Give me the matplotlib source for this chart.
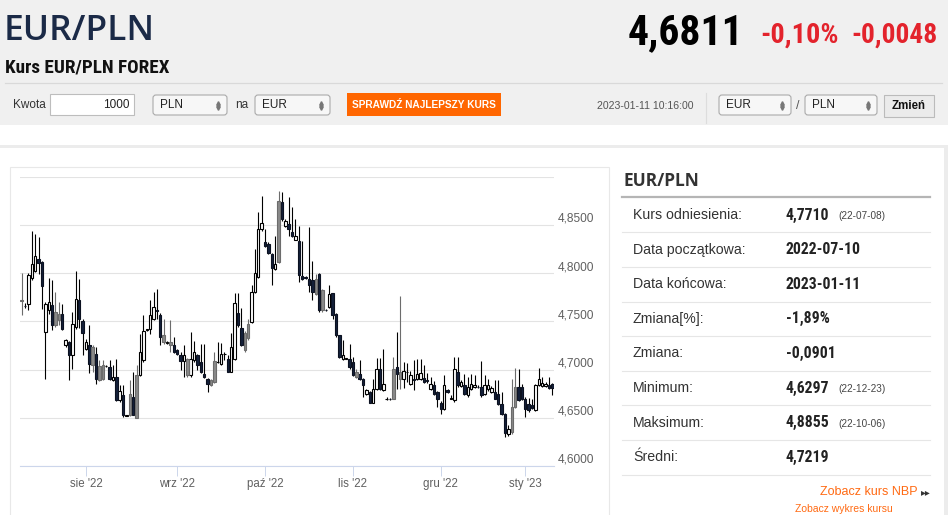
import numpy as np
import pandas as pd
import matplotlib
matplotlib.use("Agg")
import matplotlib.pyplot as plt
from matplotlib.patches import Rectangle, FancyBboxPatch
from matplotlib import font_manager

# --- data (EUR/PLN daily candles, 2022-07-10 .. 2023-01-11) ---
opens = [4.7710, 4.7660, 4.7682, 4.7948, 4.8027, 4.8148, 4.8114, 4.7389, 4.7613, 4.7665,
         4.7458, 4.7510, 4.7579, 4.7251, 4.7285, 4.7148, 4.7441, 4.7717, 4.7500, 4.7210,
         4.7251, 4.7044, 4.7165, 4.6889, 4.6906, 4.7037, 4.7027, 4.6889, 4.6924, 4.6682,
         4.6734, 4.6520, 4.6526, 4.6716, 4.6499, 4.6941, 4.7096, 4.7410, 4.7424, 4.7527,
         4.7620, 4.7561, 4.7285, 4.7279, 4.7251, 4.7251, 4.7199, 4.7148, 4.7086, 4.6941,
         4.6941, 4.7096, 4.7148, 4.7079, 4.6958, 4.6906, 4.6844, 4.6871, 4.7079, 4.7062,
         4.7158, 4.7113, 4.6975, 4.7113, 4.7589, 4.7430, 4.7199, 4.7327, 4.7493, 4.7803,
         4.7958, 4.8459, 4.8321, 4.8303, 4.8200, 4.8044, 4.8114, 4.8734, 4.8493, 4.8510,
         4.8431, 4.8348, 4.8338, 4.7969, 4.7965, 4.7941, 4.7924, 4.7786, 4.7993, 4.7613,
         4.7615, 4.7648, 4.7796, 4.7579, 4.7355, 4.7113, 4.7113, 4.7113, 4.7079, 4.6924,
         4.6958, 4.6906, 4.6751, 4.6768, 4.6658, 4.6803, 4.7010, 4.6786, 4.6692, 4.6695,
         4.6699, 4.7027, 4.6906, 4.6906, 4.6975, 4.6854, 4.6906, 4.6906, 4.6906, 4.6913,
         4.6889, 4.6796, 4.6837, 4.6768, 4.6658, 4.6596, 4.6786, 4.6699, 4.6682, 4.6975,
         4.6830, 4.6837, 4.6734, 4.6803, 4.6820, 4.6822, 4.6820, 4.6751, 4.6796, 4.6768,
         4.6768, 4.6751, 4.6647, 4.6544, 4.6330, 4.6350, 4.6613, 4.6820, 4.6820, 4.6699,
         4.6647, 4.6637, 4.6578, 4.6837, 4.6830, 4.6830, 4.6837, 4.6850]
highs = [4.7999, 4.7690, 4.7999, 4.8441, 4.8407, 4.8372, 4.8131, 4.7700, 4.7951, 4.7924,
         4.7803, 4.7700, 4.7682, 4.7320, 4.7300, 4.7596, 4.8017, 4.7941, 4.7520, 4.7320,
         4.7458, 4.7251, 4.7234, 4.7103, 4.7103, 4.7050, 4.7096, 4.7044, 4.7113, 4.6837,
         4.6837, 4.6530, 4.6889, 4.6975, 4.7044, 4.7372, 4.7568, 4.7425, 4.7717, 4.7803,
         4.7831, 4.7590, 4.7527, 4.7295, 4.7510, 4.7337, 4.7210, 4.7182, 4.7251, 4.7120,
         4.7389, 4.7292, 4.7160, 4.7268, 4.7268, 4.6910, 4.6900, 4.7182, 4.7285, 4.7279,
         4.7182, 4.7148, 4.7382, 4.7796, 4.7796, 4.7637, 4.7400, 4.7527, 4.7872, 4.8252,
         4.8638, 4.8804, 4.8459, 4.8320, 4.8210, 4.8390, 4.8855, 4.8845, 4.8560, 4.8786,
         4.8683, 4.8562, 4.8493, 4.8338, 4.7970, 4.8476, 4.8131, 4.7993, 4.8000, 4.7831,
         4.7625, 4.7872, 4.7796, 4.7590, 4.7360, 4.7310, 4.7120, 4.7261, 4.7130, 4.7010,
         4.7096, 4.6910, 4.6800, 4.6780, 4.6906, 4.7124, 4.7124, 4.7210, 4.6720, 4.6710,
         4.7130, 4.7389, 4.7758, 4.7079, 4.7072, 4.6990, 4.7096, 4.7113, 4.7113, 4.7044,
         4.6960, 4.6924, 4.6880, 4.6780, 4.6670, 4.6941, 4.6800, 4.6734, 4.7130, 4.7130,
         4.6890, 4.6958, 4.6924, 4.6958, 4.6941, 4.6840, 4.7086, 4.6941, 4.6906, 4.6830,
         4.6889, 4.6889, 4.6768, 4.6550, 4.6420, 4.6906, 4.7016, 4.7010, 4.6850, 4.6720,
         4.6700, 4.6699, 4.6850, 4.7016, 4.6924, 4.6870, 4.6924, 4.6860]
lows = [4.7561, 4.7640, 4.7613, 4.7930, 4.8010, 4.7993, 4.7631, 4.6906, 4.7580, 4.7406,
        4.7441, 4.7458, 4.7406, 4.7234, 4.6889, 4.7010, 4.7424, 4.7430, 4.7148, 4.7200,
        4.6965, 4.6975, 4.6854, 4.6880, 4.6890, 4.7030, 4.6889, 4.6880, 4.6671, 4.6660,
        4.6509, 4.6515, 4.6520, 4.6526, 4.6495, 4.6930, 4.7080, 4.7405, 4.7372, 4.7510,
        4.7527, 4.7251, 4.7270, 4.7270, 4.7182, 4.7170, 4.7150, 4.6992, 4.6924, 4.6924,
        4.6924, 4.7080, 4.6992, 4.6960, 4.6910, 4.6768, 4.6830, 4.6860, 4.7070, 4.7044,
        4.7096, 4.6970, 4.6970, 4.7100, 4.7440, 4.7240, 4.7182, 4.7310, 4.7480, 4.7790,
        4.7950, 4.8440, 4.8270, 4.8200, 4.7872, 4.8030, 4.8100, 4.8540, 4.8480, 4.8390,
        4.8370, 4.8340, 4.7907, 4.7930, 4.7940, 4.7803, 4.7717, 4.7770, 4.7600, 4.7600,
        4.7605, 4.7640, 4.7527, 4.7340, 4.7120, 4.7100, 4.7105, 4.7010, 4.6930, 4.6910,
        4.6890, 4.6716, 4.6740, 4.6650, 4.6650, 4.6790, 4.6786, 4.6780, 4.6680, 4.6680,
        4.6690, 4.6803, 4.6803, 4.6810, 4.6871, 4.6840, 4.6786, 4.6890, 4.6890, 4.6860,
        4.6860, 4.6790, 4.6740, 4.6610, 4.6544, 4.6580, 4.6760, 4.6690, 4.6660, 4.6820,
        4.6820, 4.6740, 4.6720, 4.6790, 4.6810, 4.6810, 4.6720, 4.6740, 4.6780, 4.6760,
        4.6690, 4.6630, 4.6530, 4.6297, 4.6310, 4.6330, 4.6600, 4.6670, 4.6680, 4.6509,
        4.6560, 4.6590, 4.6570, 4.6830, 4.6820, 4.6820, 4.6800, 4.6734]
closes = [4.7720, 4.7655, 4.7976, 4.8096, 4.8176, 4.8107, 4.7865, 4.7682, 4.7700, 4.7458,
          4.7596, 4.7579, 4.7424, 4.7303, 4.7148, 4.7475, 4.7734, 4.7527, 4.7382, 4.7285,
          4.7062, 4.7234, 4.6906, 4.7034, 4.7044, 4.7040, 4.6906, 4.6924, 4.6682, 4.6775,
          4.6526, 4.6525, 4.6751, 4.6533, 4.6941, 4.7182, 4.7396, 4.7417, 4.7568, 4.7648,
          4.7610, 4.7337, 4.7355, 4.7285, 4.7285, 4.7182, 4.7165, 4.7086, 4.7154, 4.7113,
          4.7113, 4.7182, 4.7044, 4.6975, 4.6924, 4.6854, 4.6889, 4.7086, 4.7082, 4.7165,
          4.7160, 4.6975, 4.7234, 4.7689, 4.7458, 4.7251, 4.7382, 4.7472, 4.7803, 4.7999,
          4.8459, 4.8521, 4.8286, 4.8210, 4.8051, 4.8096, 4.8752, 4.8562, 4.8545, 4.8459,
          4.8383, 4.8383, 4.7976, 4.7941, 4.7948, 4.7872, 4.7803, 4.7941, 4.7613, 4.7820,
          4.7613, 4.7786, 4.7561, 4.7355, 4.7130, 4.7148, 4.7115, 4.7027, 4.6941, 4.6975,
          4.6906, 4.6837, 4.6786, 4.6658, 4.6796, 4.7010, 4.6803, 4.6854, 4.6695, 4.6692,
          4.7010, 4.6958, 4.6975, 4.6982, 4.6978, 4.6948, 4.6889, 4.6958, 4.6965, 4.6871,
          4.6880, 4.6854, 4.6751, 4.6699, 4.6596, 4.6837, 4.6768, 4.6702, 4.7010, 4.6837,
          4.6871, 4.6751, 4.6820, 4.6854, 4.6844, 4.6820, 4.6734, 4.6837, 4.6837, 4.6810,
          4.6699, 4.6647, 4.6544, 4.6340, 4.6380, 4.6613, 4.6820, 4.6682, 4.6699, 4.6596,
          4.6578, 4.6602, 4.6837, 4.6906, 4.6865, 4.6854, 4.6810, 4.6811]
# candle body as drawn: w = hollow, d = dark, g = grey (10 candles per chunk)
candle_type = "".join(["gdwwwddwwd", "ggdwdwwddw", "dgdggwdwdw", "dwgdgwwwww",
                       "ddgwgdddwg", "wwddddggww", "wdwwddggww", "wwdddwgdwd",
                       "dwdddddgdg", "dwdddwwddg", "ddwdwwdwwd", "gdgwwwdwwd",
                       "dwdddwdwwd", "wdwwwddwww", "ddddwggddd", "ddwwwwdd"])

all_days = pd.date_range("2022-07-10", "2023-01-11", freq="D")
dates = [d for d in all_days if d.weekday() != 5 and d not in (pd.Timestamp("2022-12-25"), pd.Timestamp("2023-01-01"))]

month_starts = ["2022-08-01", "2022-09-01", "2022-10-01", "2022-11-01", "2022-12-01", "2023-01-01"]
month_labels = ["sie '22", "wrz '22", "paź '22", "lis '22", "gru '22", "sty '23"]
price_ticks = [4.60, 4.65, 4.70, 4.75, 4.80, 4.85, 4.90]
price_labels = ["4,6000", "4,6500", "4,7000", "4,7500", "4,8000", "4,8500", ""]

header_pair = "EUR/PLN"
last_price = "4,6811"
change_pct = "-0,10%"
change_abs = "-0,0048"
quote_time = "2023-01-11 10:16:00"

stat_labels = ["Kurs odniesienia:", "Data początkowa:", "Data końcowa:", "Zmiana[%]:",
               "Zmiana:", "Minimum:", "Maksimum:", "Średni:"]
stat_values = ["4,7710", "2022-07-10", "2023-01-11", "-1,89%", "-0,0901", "4,6297", "4,8855", "4,7219"]
stat_dates = ["(22-07-08)", "", "", "", "", "(22-12-23)", "(22-10-06)", ""]

# --- fonts: a condensed face if one is there, else plain Liberation Sans a bit smaller ---
installed = {f.name for f in font_manager.fontManager.ttflist}
NARROW, SHRINK = "Liberation Sans", 0.84
for name, k in [("Roboto Condensed", 1.0), ("Liberation Sans Narrow", 1.0), ("Open Sans Condensed", 1.0)]:
    if name in installed:
        NARROW, SHRINK = name, k
        break
ARIAL = "Liberation Sans"
plt.rcParams["font.family"] = [ARIAL, "DejaVu Sans"]

W, H = 948, 515
fig = plt.figure(figsize=(W / 100, H / 100), dpi=100)
fig.patch.set_facecolor("white")

# page layer in pixel coordinates
bg = fig.add_axes([0, 0, 1, 1])
bg.set_xlim(0, W)
bg.set_ylim(H, 0)
bg.axis("off")


def box(x0, y0, x1, y1, fc, ec="none", lw=0.0, z=1):
    bg.add_patch(Rectangle((x0, y0), x1 - x0, y1 - y0, facecolor=fc, edgecolor=ec, linewidth=lw, zorder=z))


def rbox(x0, y0, x1, y1, fc, ec, z=2):
    bg.add_patch(FancyBboxPatch((x0, y0), x1 - x0, y1 - y0, boxstyle="round,pad=0,rounding_size=3",
                                facecolor=fc, edgecolor=ec, linewidth=0.8, zorder=z))


def txt(x, y, s, size, family=ARIAL, color="#333333", weight="normal", ha="left", va="center", z=5):
    bg.text(x, y, s, fontsize=size, family=[family, "DejaVu Sans"], color=color, fontweight=weight,
            ha=ha, va=va, zorder=z)


def select(x0, x1, label):
    rbox(x0, 95, x1, 115, "#f7f7f7", "#aaaaaa")
    txt(x0 + 7, 105, label, 8.5, color="#222222")
    bg.plot([x1 - 9], [102.5], marker="^", ms=2.6, color="#777777", zorder=6)
    bg.plot([x1 - 9], [108], marker="v", ms=2.6, color="#777777", zorder=6)


# header band
box(0, 0, W, 125, "#f0f0f0")
bg.plot([5, 942], [83, 83], color="#d9d9d9", lw=0.9, zorder=2)
title_font = "Open Sans" if "Open Sans" in installed else ARIAL
txt(4, 31, header_pair, 25.5, family=title_font, color="#1b2a47", weight="semibold")
txt(5, 68, "Kurs EUR/PLN FOREX", 13.8 * SHRINK, family=NARROW, color="#111111", weight="bold")
txt(743, 33, last_price, 30 * SHRINK, family=NARROW, color="#000000", weight="bold", ha="right")
txt(760, 35, change_pct, 20.3 * SHRINK, family=NARROW, color="#e3232c", weight="bold")
txt(851, 35, change_abs, 19.8 * SHRINK, family=NARROW, color="#e3232c", weight="bold")

# form row
txt(13, 105, "Kwota", 8.5, color="#333333")
box(50, 94, 134, 115, "white", "#bdbdbd", 0.8, z=2)
txt(130, 105, "1000", 8.5, color="#222222", ha="right")
select(153, 227, "PLN")
txt(235, 105, "na", 8.5)
select(255, 330, "EUR")
box(347, 93, 501, 116, "#ff6600", z=2)
txt(424, 104.5, "SPRAWDŹ NAJLEPSZY KURS", 7.3, color="white", weight="bold", ha="center")
txt(597, 106, quote_time, 7.6, color="#555555")
bg.plot([706, 706], [93, 123], color="#dddddd", lw=0.8, zorder=2)
select(719, 791, "EUR")
txt(796, 106, "/", 9, color="#555555")
select(805, 877, "PLN")
box(884, 95, 934, 117, "#ebebeb", "#bbbbbb", 0.8, z=2)
txt(909, 106, "Zmień", 8.3, color="#111111", weight="bold", ha="center")

# content panel
box(0, 145, W, 148, "#ececec")
box(944, 145, W, H, "#ececec")
box(10, 167, 609, H + 5, "white", "#e8e8e8", 0.8, z=1)

# statistics table
txt(624, 181, header_pair, 12.5, family=title_font, color="#333333", weight="bold")
bg.plot([622, 930], [197, 197], color="#b5b5b5", lw=1.6, zorder=2)
row_h = 34.6
val_size = 11.3 if SHRINK == 1.0 else 10.2
for i, (lab, val, dt) in enumerate(zip(stat_labels, stat_values, stat_dates)):
    yc = 215 + i * row_h
    txt(633, yc, lab, 10.2, color="#333333")
    txt(786, yc, val, val_size, family=NARROW, color="#222222", weight="bold")
    if dt:
        txt(838, yc + 1, dt, 7.2, color="#444444")
    bg.plot([622, 930], [yc + 17.3, yc + 17.3], color="#e6e6e6", lw=0.8, zorder=2)
txt(918, 492, "Zobacz kurs NBP", 9, color="#ff6a13", ha="right")
txt(921, 492.5, "▸▸", 7, family="DejaVu Sans", color="#333333")
txt(795, 514.5, "Zobacz wykres kursu", 7.5, color="#ff6a13", va="bottom")

# --- candlestick chart ---
px_l, px_r, px_t, px_b = 20, 554, 176.7, 466
ax = fig.add_axes([px_l / W, 1 - px_b / H, (px_r - px_l) / W, (px_b - px_t) / H])
ax.set_facecolor("none")

x = np.arange(len(dates))
o = np.array(opens)
c = np.array(closes)
lo = np.array(lows)
hi = np.array(highs)
styles = {"w": ("#ffffff", "#000000", "#000000"),
          "d": ("#14203a", "#0b1120", "#000000"),
          "g": ("#8a8a8a", "#6c6c6c", "#6c6c6c")}
for kind, (face, edge, wick) in styles.items():
    idx = np.array([i for i, k in enumerate(candle_type) if k == kind])
    ax.vlines(x[idx], lo[idx], hi[idx], colors=wick, lw=0.8, zorder=3)
    ax.bar(x[idx], np.abs(c[idx] - o[idx]), bottom=np.minimum(o[idx], c[idx]), width=0.72,
           color=face, edgecolor=edge, linewidth=0.8, zorder=4)

ax.set_xlim(-0.5, len(dates) - 0.5)
ax.set_ylim(4.60, 4.90)

tick_pos = [next(i for i, d in enumerate(dates) if d >= pd.Timestamp(m)) for m in month_starts]
ax.set_xticks(tick_pos)
ax.set_xticklabels(month_labels)
ax.tick_params(axis="x", length=7, width=0.7, color="#ccd6eb", pad=1.5, labelsize=8.3, labelcolor="#606060")

ax.set_yticks(price_ticks)
ax.set_yticklabels(price_labels)
ax.yaxis.tick_right()
ax.tick_params(axis="y", length=0, pad=3, labelsize=8.6, labelcolor="#606060")
for lbl in ax.get_yticklabels():
    lbl.set_va("bottom")
ax.grid(axis="y", color="#e3e3e3", lw=0.8)
ax.set_axisbelow(True)
for s in ["top", "left", "right"]:
    ax.spines[s].set_visible(False)
ax.spines["bottom"].set_color("#ccd6eb")
ax.spines["bottom"].set_linewidth(0.8)

fig.savefig("out.png", dpi=100)
